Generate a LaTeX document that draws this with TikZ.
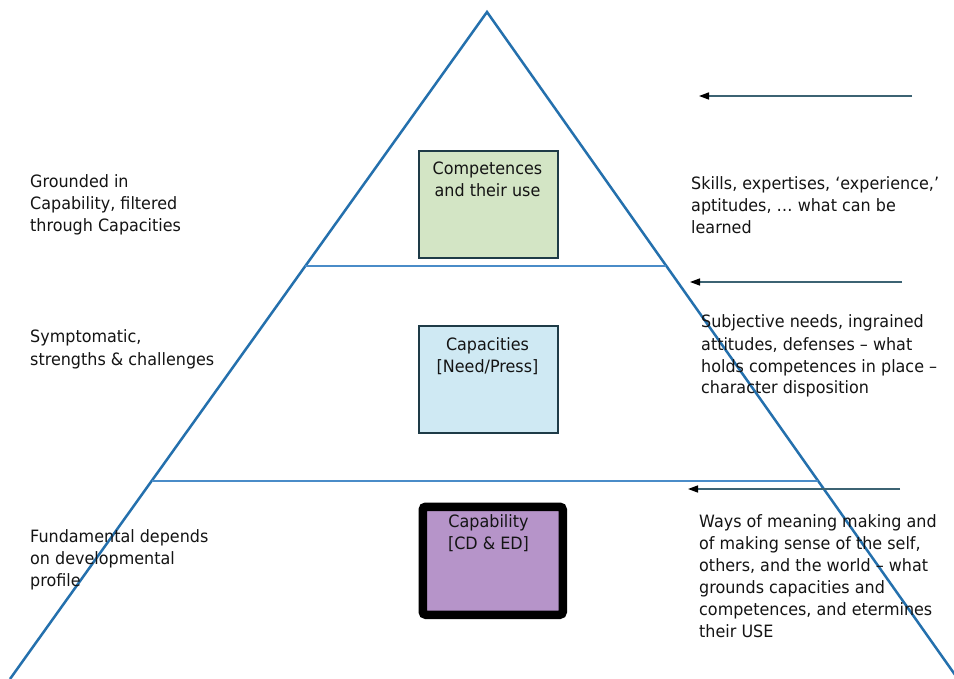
\documentclass[tikz,border=0pt]{standalone}
\usepackage{fontspec}
\setmainfont{DejaVu Sans}[FakeStretch=0.94]
\usetikzlibrary{arrows.meta,calc}
\definecolor{tri}{RGB}{36,112,173}
\definecolor{hline}{RGB}{74,140,200}
\definecolor{arr}{RGB}{60,99,115}
\definecolor{boxline}{RGB}{30,59,71}
\definecolor{gfill}{RGB}{211,229,197}
\definecolor{bfill}{RGB}{207,233,243}
\definecolor{pfill}{RGB}{182,148,201}
\newcommand{\txtsize}{\fontsize{17}{22}\selectfont}
\newcommand{\lines}[1]{\begin{tabular}[t]{@{}l@{}}#1\end{tabular}}
\newcommand{\clines}[1]{\begin{tabular}[t]{@{}c@{}}#1\end{tabular}}
\tikzset{
  lbl/.style={anchor=base west, inner sep=0pt, font=\txtsize, text=black!92},
  boxlbl/.style={anchor=base, inner sep=0pt, font=\txtsize, text=black!92},
  tribox/.style={draw=boxline, line width=1.8pt, anchor=north west, minimum width=139pt, minimum height=107pt, inner sep=0pt},
  pointer/.style={draw=arr, line width=1.5pt, -{Triangle[length=10pt,width=7pt,color=black]}},
  sideline/.style={draw=tri, line width=2.5pt},
  levelline/.style={draw=hline, line width=1.5pt}
}
\begin{document}
\begin{tikzpicture}[x=1pt,y=-1pt]
\useasboundingbox[fill=white] (0,0) rectangle (954,679);
% triangle
\coordinate (apex) at (487,12);
\coordinate (bl) at (10,679);
\coordinate (br) at (958,679);
\draw[sideline,line join=miter] (bl) -- (apex) -- (br);
% level lines
\coordinate (l1a) at ($(apex)!0.381!(bl)$);
\coordinate (l1b) at ($(apex)!0.381!(br)$);
\coordinate (l2a) at ($(apex)!0.703!(bl)$);
\coordinate (l2b) at ($(apex)!0.703!(br)$);
\draw[levelline] (l1a) -- (l1b);
\draw[levelline] (l2a) -- (l2b);
% boxes
\node[tribox, fill=gfill] (comp) at (418,150) {};
\node[tribox, fill=bfill] (capa) at (418,325) {};
\node[draw=black, line width=8.5pt, rounded corners=3pt, fill=pfill, anchor=north west, minimum width=140pt, minimum height=108pt, inner sep=0pt] (capb) at (418.5,502.5) {};
\node[boxlbl] (compt) at (487.5,175) {\clines{Competences\\and their use}};
\node[boxlbl] (capat) at (487.5,350) {\clines{Capacities\\{[Need/Press]}}};
\node[boxlbl] (capbt) at (488.5,527) {\clines{Capability\\{[CD \& ED]}}};
% arrows
\coordinate (a1s) at (912,96);  \coordinate (a1e) at (699,96);
\coordinate (a2s) at (902,282); \coordinate (a2e) at (690,282);
\coordinate (a3s) at (900,489); \coordinate (a3e) at (688,489);
\draw[pointer] (a1s) -- (a1e);
\draw[pointer] (a2s) -- (a2e);
\draw[pointer] (a3s) -- (a3e);
% left texts
\node[lbl] (lt1) at (30,188) {\lines{Grounded in\\Capability, filtered\\through Capacities}};
\node[lbl] (lt2) at (30,343) {\lines{Symptomatic,\\strengths \& challenges}};
\node[lbl] (lt3) at (30,542) {\lines{Fundamental depends\\on developmental\\profile}};
% right texts
\node[lbl] (rt1) at (691,190) {\lines{Skills, expertises, `experience,'\\aptitudes, \dots\ what can be\\learned}};
\node[lbl] (rt2) at (701,328) {\lines{Subjective needs, ingrained\\attitudes, defenses -- what\\holds competences in place --\\character disposition}};
\node[lbl] (rt3) at (699,527) {\lines{Ways of meaning making and\\of making sense of the self,\\others, and the world -- what\\grounds capacities and\\competences, and etermines\\their USE}};
\end{tikzpicture}
\end{document}
